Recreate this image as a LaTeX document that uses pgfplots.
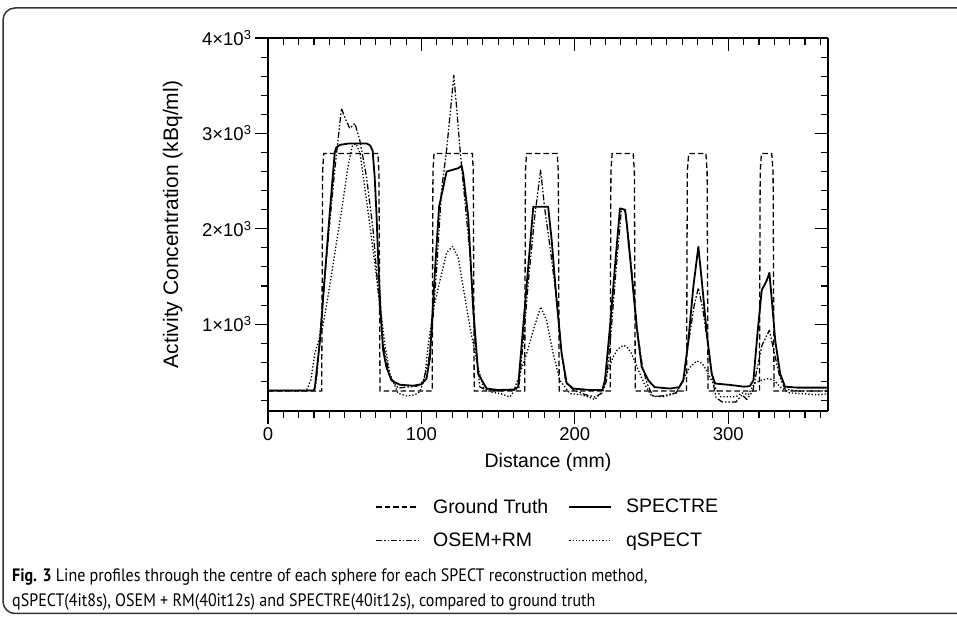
\documentclass[border=0pt]{standalone}
\usepackage{fontspec}
\setmainfont{Liberation Sans}
\newfontfamily\capfont[FakeStretch=0.89]{PT Sans}
\usepackage{pgfplots}
\pgfplotsset{compat=1.18}

\begin{document}
\begin{tikzpicture}
\useasboundingbox (0pt,0pt) rectangle (957pt,617pt);

\begin{axis}[
  at={(268pt,206pt)}, anchor=south west,
  width=560pt, height=373pt, scale only axis,
  xmin=0, xmax=365, ymin=90, ymax=4000,
  axis x line*=bottom, axis y line*=left,
  tick align=outside,
  xtick={0,100,200,300},
  minor xtick={10,20,...,360},
  ytick={1000,2000,3000,4000},
  yticklabels={1×10\textsuperscript{3},2×10\textsuperscript{3},3×10\textsuperscript{3},4×10\textsuperscript{3}},
  minor ytick={200,400,...,3800},
  major tick length=13pt, minor tick length=7pt,
  every tick/.style={black, line width=1.1pt},
  axis line style={black, line width=1.3pt},
  /pgf/number format/assume math mode=true,
  tick label style={font=\fontsize{18.5}{20}\selectfont},
  xlabel={Distance (mm)},
  ylabel={Activity Concentration (kBq/ml)},
  xlabel style={font=\fontsize{19.5}{22}\selectfont, at={(rel axis cs:0.5,0)}, anchor=base, yshift=-57pt},
  ylabel style={font=\fontsize{21}{24}\selectfont, at={(rel axis cs:0,0.5)}, anchor=base, yshift=90pt},
  legend columns=2,
  legend style={at={(axis description cs:0.5,-0.3016)}, anchor=center, draw=none, fill=none,
    font=\fontsize{19.5}{22}\selectfont, row sep=14pt,
    /tikz/every odd column/.append style={column sep=12pt},
    /tikz/every even column/.append style={column sep=18pt}},
  legend cell align=left,
  legend image code/.code={\draw[#1] (0pt,0pt) -- (42pt,0pt);},
]
% Ground truth
\addplot[black, line width=1.3pt, dash pattern=on 5.5pt off 3pt] coordinates {
(0,300) (35,300) (35.6,2600) (36.3,2790) (71.6,2790) (72.3,2600) (73,300)
(107,300) (107.5,2600) (108.2,2790) (133.2,2790) (133.8,2600) (134.4,300)
(167.3,300) (167.8,2600) (168.5,2790) (188.5,2790) (189.2,2600) (189.8,300)
(223,300) (223.5,2600) (224.3,2790) (238,2790) (238.8,2600) (239.4,300)
(272.8,300) (273.3,2600) (274.2,2790) (285.4,2790) (286.2,2600) (286.8,300)
(320.3,300) (320.8,2600) (321.6,2790) (328.3,2790) (329.2,2600) (329.8,300)
(365,300)
};
\addlegendentry{Ground Truth}
% SPECTRE
\addplot[black, line width=1.8pt, line join=round] coordinates {
(0,305) (30,305) (30.5,330) (33.7,800) (37,1500) (40.2,2160) (43.5,2800) (44.6,2855)
(47,2880) (53,2895) (60,2893) (64.5,2893) (66.5,2875) (68.2,2820) (69.5,2550) (70.7,2160)
(72,1600) (73.5,1100) (75,730) (77.2,550) (80.5,410) (85.9,365) (94.6,355) (100,370)
(103.3,430) (105.5,640) (108.7,1530) (111.5,2230) (116.4,2600) (124,2635) (126.2,2660)
(127.2,2580) (130.5,2125) (133.7,1180) (137,480) (142.5,325) (150,310) (160,315) (163,340)
(166.3,970) (169.6,1600) (172.9,2230) (182.6,2230) (184.9,1880) (188.1,1250) (191.4,690)
(194.7,380) (199,325) (210,310) (218,310) (219.6,410) (222.9,970) (226.1,1600) (229.4,2213)
(232.7,2200) (233.8,2056) (237,1530) (240.3,970) (243.6,550) (247.9,410) (252,340)
(262,325) (268,340) (270.7,412) (274,830) (277.2,1390) (280.5,1811) (282.7,1460) (286,900)
(289.2,480) (291.4,378) (300,365) (305.5,355) (310,345) (314,350) (316.4,412) (319,900)
(321.8,1356) (325.1,1460) (326.8,1538) (328.4,1250) (330.6,830) (333.8,480) (337,345)
(345,335) (365,335)
};
\addlegendentry{SPECTRE}
% OSEM+RM
\addplot[black, line width=1.25pt, line join=round,
  dash pattern=on 6pt off 2pt on 1.5pt off 2pt on 1.5pt off 2pt] coordinates {
(0,305) (30,305) (31.6,412) (34,900) (37,1500) (40.2,2056) (43.5,2615) (47.9,3262)
(50.5,3150) (53.3,3052) (56.6,3105) (59.8,2930) (64.2,2545) (68.5,1986) (71.8,1356)
(75,800) (79.4,447) (84.8,330) (90,340) (97,350) (101,400) (104.5,600) (107,950)
(110,1600) (113.1,2405) (116.4,2825) (119.6,3350) (121.1,3610) (122.9,3280) (125,2860)
(128.3,2300) (131.6,1741) (134.8,832) (138.1,342) (142,310) (150,300) (160,310) (163.5,330)
(166.3,800) (170,1500) (174,2150) (177.7,2615) (180.2,2230) (184.3,1750) (188.2,1250)
(191.4,700) (194,400) (199,310) (207,260) (213,237) (218,280) (220.5,400) (223.5,900)
(227,1600) (230.4,2213) (233,2180) (235,1900) (238,1400) (241,900) (244,560) (247,380)
(251,240) (258,250) (266,280) (270.5,400) (274,800) (277.8,1200) (280.5,1380) (283.5,1150)
(287,750) (290,400) (292,230) (296,185) (305,185) (309,260) (312,210) (316,300) (319,550)
(322,780) (326.8,937) (330,700) (333.5,450) (337,320) (345,300) (365,300)
};
\addlegendentry{OSEM+RM}
% qSPECT
\addplot[black, line width=1.3pt, line join=round, dash pattern=on 1.3pt off 2pt] coordinates {
(0,300) (25,300) (28,420) (30.5,690) (35.9,990) (39.1,1290) (44.6,1850) (48.5,2250)
(52,2640) (55,2870) (57.5,2890) (60,2790) (64.2,2300) (68.5,1775) (72.9,1217) (76.1,800)
(79.4,480) (84.8,275) (90,250) (95,255) (99,290) (102.2,447) (104.4,780) (107.7,1150)
(112,1450) (116.4,1750) (120.3,1815) (124,1700) (127.2,1390) (131.6,970) (135.9,620)
(140.2,340) (145,290) (152,270) (157.7,237) (160,290) (164.2,482) (168.6,692) (172.9,937)
(177.7,1181) (181.5,1042) (185.9,692) (190.2,412) (196.8,273) (204,260) (210,230)
(213.1,210) (217,280) (220.7,482) (225,657) (228,740) (231.6,779) (234,760) (237,692)
(241.4,517) (245.7,360) (250,250) (258,240) (266,280) (270,400) (274.5,540) (279.4,615)
(283,590) (287,480) (291,350) (295,240) (305,240) (309,280) (313,260) (317,380) (321,410)
(326.2,430) (330,410) (334,340) (340,280) (350,270) (358,260) (365,270)
};
\addlegendentry{qSPECT}
\end{axis}

% mirrored frame: top and right axes with inward ticks
\begin{axis}[
  at={(268pt,206pt)}, anchor=south west,
  width=560pt, height=373pt, scale only axis,
  xmin=0, xmax=365, ymin=90, ymax=4000,
  axis x line*=top, axis y line*=right,
  tick align=inside,
  xtick={0,100,200,300}, minor xtick={10,20,...,360},
  ytick={1000,2000,3000,4000}, minor ytick={200,400,...,3800},
  xticklabels={}, yticklabels={},
  major tick length=13pt, minor tick length=7pt,
  every tick/.style={black, line width=1.1pt},
  axis line style={black, line width=1.3pt},
]
\end{axis}

% figure box and caption
\draw[black!80, line width=1.5pt] (957pt,609pt) -- (15pt,609pt)
  arc[start angle=90, end angle=180, radius=12pt] -- (3pt,15.5pt)
  arc[start angle=180, end angle=270, radius=12pt] -- (957pt,3.5pt);
\node[anchor=base west, inner sep=0pt] at (12pt,35pt)
  {\capfont\fontsize{18}{22}\selectfont\textbf{Fig. 3} Line profiles through the centre of each sphere for each SPECT reconstruction method,};
\node[anchor=base west, inner sep=0pt] at (12pt,10pt)
  {\capfont\fontsize{18}{22}\selectfont qSPECT(4it8s), OSEM + RM(40it12s) and SPECTRE(40it12s), compared to ground truth};
\end{tikzpicture}
\end{document}
